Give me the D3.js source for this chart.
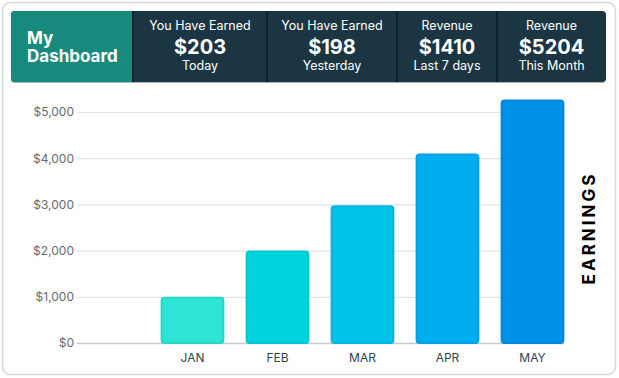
<!DOCTYPE html>
<html>
<head>
<meta charset="utf-8">
<script src="https://cdn.jsdelivr.net/npm/d3@7"></script>
<style>
  html, body { margin: 0; padding: 0; background: #fff; }
  text { font-family: Inter, "Open Sans", sans-serif; }
</style>
</head>
<body>
<div id="chart"></div>
<script>
/* Data */
var months = ["JAN", "FEB", "MAR", "APR", "MAY"],
    earnings = [1000, 2000, 2980, 4100, 5270],
    barColors = ["#2ee4d4", "#00d3de", "#00c2e9", "#00adef", "#0091e6"],
    barBorders = ["#25d7c8", "#00c7d3", "#00b6dc", "#00a2e4", "#0086da"],
    yTicks = [0, 1000, 2000, 3000, 4000, 5000];

var statTitles = ["You Have Earned", "You Have Earned", "Revenue", "Revenue"],
    statValues = ["$203", "$198", "$1410", "$5204"],
    statPeriods = ["Today", "Yesterday", "Last 7 days", "This Month"];

/* Settings */
var width = 619,
    height = 378,
    plotLeft = 77,
    plotRight = 564,
    plotTop = 112,
    plotBottom = 343;

var svg = d3.select("#chart").append("svg")
    .attr("width", width)
    .attr("height", height)
    .attr("viewBox", "0 0 " + width + " " + height);

/* Card */
svg.append("rect")
  .attr("x", 2.5).attr("y", 2.5)
  .attr("width", 613).attr("height", 372)
  .attr("rx", 8)
  .attr("fill", "#fff")
  .attr("stroke", "#d2d9dc")
  .attr("stroke-width", 1.5);

/* Header */
var header = svg.append("g");
header.append("rect")
  .attr("x", 11).attr("y", 12)
  .attr("width", 595).attr("height", 71)
  .attr("rx", 4)
  .attr("fill", "#0f232b")
  .attr("opacity", 0.35);
header.append("rect")
  .attr("x", 11).attr("y", 11)
  .attr("width", 595).attr("height", 71)
  .attr("rx", 4)
  .attr("fill", "#1b3642");
header.append("path")
  .attr("d", "M133,11 H15 A4,4 0 0 0 11,15 V78 A4,4 0 0 0 15,82 H133 Z")
  .attr("fill", "#178a7e");
header.append("text")
  .attr("x", 27).attr("y", 44)
  .attr("fill", "#fff")
  .attr("font-size", 17)
  .attr("font-weight", 700)
  .text("My");
header.append("text")
  .attr("x", 27).attr("y", 62)
  .attr("fill", "#fff")
  .attr("font-size", 17)
  .attr("font-weight", 700)
  .text("Dashboard");

var cellEdges = [133, 267, 397, 497, 606];
var stats = header.selectAll("g.stat")
  .data(statTitles)
  .join("g")
  .attr("class", "stat")
  .attr("transform", function(d, i) {
    return "translate(" + ((cellEdges[i] + cellEdges[i + 1]) / 2) + ",0)";
  });

stats.append("text")
  .attr("y", 30)
  .attr("text-anchor", "middle")
  .attr("fill", "#fff")
  .attr("font-size", 12.5)
  .text(function(d) { return d; });
stats.append("text")
  .attr("y", 54)
  .attr("text-anchor", "middle")
  .attr("fill", "#fff")
  .attr("font-size", 20)
  .attr("font-weight", 700)
  .text(function(d, i) { return statValues[i]; });
stats.append("text")
  .attr("y", 70)
  .attr("text-anchor", "middle")
  .attr("fill", "#fff")
  .attr("font-size", 12.5)
  .text(function(d, i) { return statPeriods[i]; });

header.selectAll("line.sep")
  .data(cellEdges.slice(0, 4))
  .join("line")
  .attr("class", "sep")
  .attr("x1", function(d) { return d; })
  .attr("x2", function(d) { return d; })
  .attr("y1", 11).attr("y2", 82)
  .attr("stroke", "#0e222a")
  .attr("stroke-width", 2);

/* Scales */
var x = d3.scaleBand()
  .domain(months)
  .range([150, 575])
  .paddingInner(0.25)
  .paddingOuter(0.125);

var y = d3.scaleLinear()
  .domain([0, 5000])
  .range([plotBottom, plotTop]);

/* Grid + y axis */
var yAxis = svg.append("g")
  .attr("transform", "translate(" + plotLeft + ",0)")
  .call(d3.axisLeft(y)
    .tickValues(yTicks)
    .tickSize(-(plotRight - plotLeft))
    .tickPadding(3)
    .tickFormat(function(d) { return "$" + d3.format(",")(d); }));
yAxis.select(".domain").remove();
yAxis.selectAll(".tick line")
  .attr("stroke", function(d) { return d === 0 ? "#c6c9cc" : "#e2e4e6"; })
  .attr("stroke-width", function(d) { return d === 0 ? 1.5 : 1.2; });
yAxis.selectAll(".tick text")
  .attr("fill", "#666a6e")
  .attr("font-size", 12)
  .style("font-family", "Inter, sans-serif");

/* Bars */
svg.append("g")
  .selectAll("rect")
  .data(earnings)
  .join("rect")
  .attr("x", function(d, i) { return x(months[i]) + 1; })
  .attr("y", function(d) { return y(d) + 1; })
  .attr("width", x.bandwidth() - 2)
  .attr("height", function(d) { return plotBottom - y(d) - 1; })
  .attr("rx", 3)
  .attr("fill", function(d, i) { return barColors[i]; })
  .attr("stroke", function(d, i) { return barBorders[i]; })
  .attr("stroke-width", 2);

/* X axis */
var xAxis = svg.append("g")
  .attr("transform", "translate(0," + plotBottom + ")")
  .call(d3.axisBottom(x).tickSize(0).tickPadding(10));
xAxis.select(".domain").remove();
xAxis.selectAll(".tick text")
  .attr("fill", "#2f4350")
  .attr("font-size", 12)
  .style("font-family", "Inter, sans-serif");

/* Side label */
svg.append("text")
  .attr("transform", "translate(595,228) rotate(-90)")
  .attr("text-anchor", "middle")
  .attr("fill", "#000")
  .attr("font-size", 17)
  .attr("font-weight", 700)
  .attr("letter-spacing", 3)
  .text("EARNINGS");
</script>
</body>
</html>
